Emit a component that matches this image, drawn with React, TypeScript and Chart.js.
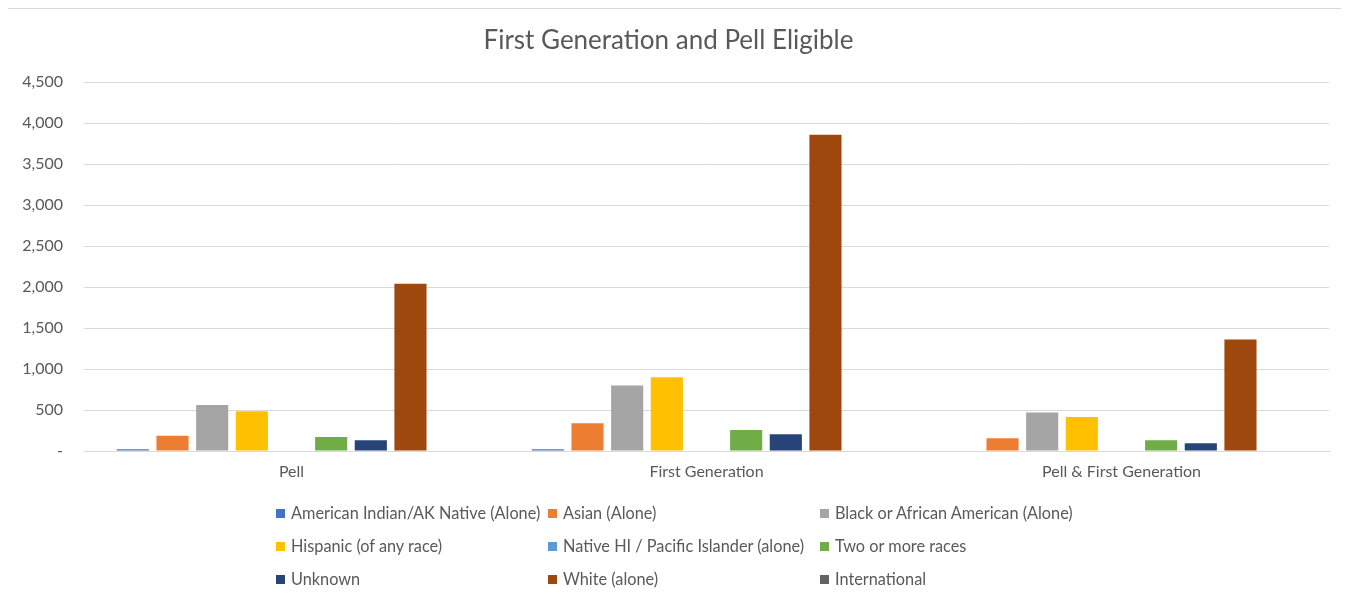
import React, { useEffect, useRef } from "react";
import { Chart, registerables } from "chart.js";

Chart.register(...registerables);

const chartTitle = "First Generation and Pell Eligible";
const categories = ["Pell", "First Generation", "Pell & First Generation"];

const seriesNames = [
  "American Indian/AK Native (Alone)",
  "Asian (Alone)",
  "Black or African American (Alone)",
  "Hispanic (of any race)",
  "Native HI / Pacific Islander (alone)",
  "Two or more races",
  "Unknown",
  "White (alone)",
  "International",
];

const seriesColors = [
  "#4472C4",
  "#ED7D31",
  "#A5A5A5",
  "#FFC000",
  "#5B9BD5",
  "#70AD47",
  "#264478",
  "#9E480E",
  "#636363",
];

const americanIndian = [20, 20, 0];
const asian = [185, 340, 155];
const black = [560, 800, 470];
const hispanic = [485, 900, 415];
const nativeHI = [0, 0, 0];
const twoOrMore = [170, 255, 130];
const unknown = [130, 205, 95];
const white = [2040, 3860, 1360];
const international = [0, 0, 0];

const seriesValues = [
  americanIndian,
  asian,
  black,
  hispanic,
  nativeHI,
  twoOrMore,
  unknown,
  white,
  international,
];

const yMin = 0;
const yMax = 4500;
const yStep = 500;

const FONT = "Lato, 'Open Sans', sans-serif";
const TEXT = "#595959";
const GRID = "#D9D9D9";

export default function App() {
  const ref = useRef<HTMLCanvasElement | null>(null);

  useEffect(() => {
    if (!ref.current) return;
    const chart = new Chart(ref.current, {
      type: "bar",
      data: {
        labels: categories,
        datasets: seriesNames.map((name, i) => ({
          label: name,
          data: seriesValues[i],
          backgroundColor: seriesColors[i],
          borderWidth: 0,
          categoryPercentage: 0.86,
          barPercentage: 0.81,
        })),
      },
      options: {
        responsive: false,
        animation: false,
        layout: { padding: { left: 0, right: 19, top: 0, bottom: 110 } },
        plugins: {
          legend: { display: false },
          tooltip: { enabled: false },
          title: {
            display: true,
            text: chartTitle,
            color: TEXT,
            font: { family: FONT, size: 26, weight: "normal" },
            padding: { top: 16.5, bottom: 25.5 },
          },
        },
        scales: {
          x: {
            grid: { display: false, drawTicks: false },
            border: { display: true, color: GRID, width: 1 },
            ticks: {
              color: TEXT,
              font: { family: FONT, size: 16 },
              padding: 11,
              maxRotation: 0,
            },
            afterFit: (s: any) => {
              s.height = 40;
            },
          },
          y: {
            min: yMin,
            max: yMax,
            grid: { color: GRID, drawTicks: false },
            border: { display: false },
            ticks: {
              stepSize: yStep,
              color: TEXT,
              font: { family: FONT, size: 16 },
              padding: 21,
              callback: (v: any) =>
                Number(v) === 0 ? "-" : Number(v).toLocaleString("en-US"),
            },
            afterFit: (s: any) => {
              s.width = 76;
            },
          },
        },
      },
    });
    return () => chart.destroy();
  }, []);

  const colX = [268, 540, 812];
  const rowY = [504, 537, 570];

  return (
    <div
      style={{
        position: "relative",
        marginLeft: -1,
        width: 1340,
        height: 600,
        border: "1px solid #D9D9D9",
        background: "#fff",
        fontFamily: FONT,
      }}
    >
      <canvas ref={ref} width={1340} height={592} style={{ display: "block" }} />
      {seriesNames.map((name, i) => (
        <div
          key={name}
          style={{
            position: "absolute",
            left: colX[i % 3],
            top: rowY[Math.floor(i / 3)] - 10,
            height: 20,
            display: "flex",
            alignItems: "center",
            whiteSpace: "nowrap",
            color: TEXT,
            fontSize: 16.3,
            lineHeight: "20px",
          }}
        >
          <span
            style={{
              display: "inline-block",
              width: 9,
              height: 9,
              background: seriesColors[i],
              marginRight: 6,
            }}
          />
          <span>{name}</span>
        </div>
      ))}
    </div>
  );
}
